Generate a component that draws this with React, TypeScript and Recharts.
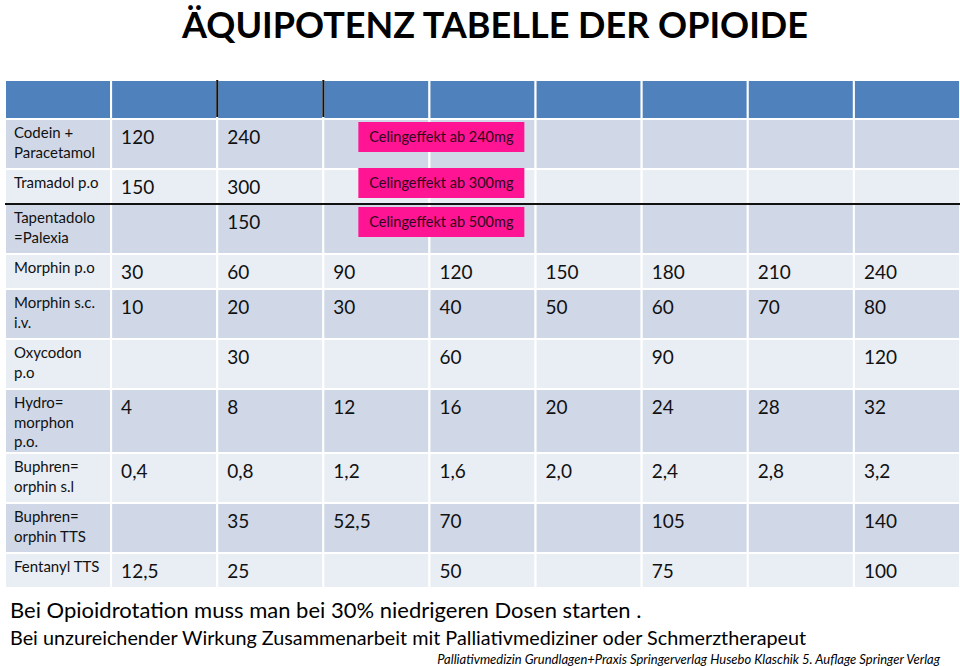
import { ScatterChart, Scatter, XAxis, YAxis, ReferenceArea, ReferenceLine } from "recharts"

// Zeilenbeschriftungen (Zeilenumbruch wie im Original)
const drugs = [
  "Codein +\nParacetamol",
  "Tramadol p.o",
  "Tapentadolo\n=Palexia",
  "Morphin p.o",
  "Morphin s.c.\ni.v.",
  "Oxycodon\np.o",
  "Hydro=\nmorphon\np.o.",
  "Buphren=\norphin s.l",
  "Buphren=\norphin TTS",
  "Fentanyl TTS",
]

// Dosen je Spalte (8 Spalten), leere Zellen als ""
const codeinDoses = ["120", "240", "", "", "", "", "", ""]
const tramadolDoses = ["150", "300", "", "", "", "", "", ""]
const tapentadolDoses = ["", "150", "", "", "", "", "", ""]
const morphinPoDoses = ["30", "60", "90", "120", "150", "180", "210", "240"]
const morphinScDoses = ["10", "20", "30", "40", "50", "60", "70", "80"]
const oxycodonDoses = ["", "30", "", "60", "", "90", "", "120"]
const hydromorphonDoses = ["4", "8", "12", "16", "20", "24", "28", "32"]
const buprenorphinSlDoses = ["0,4", "0,8", "1,2", "1,6", "2,0", "2,4", "2,8", "3,2"]
const buprenorphinTtsDoses = ["", "35", "52,5", "70", "", "105", "", "140"]
const fentanylDoses = ["12,5", "25", "", "50", "", "75", "", "100"]

const doseRows = [
  codeinDoses,
  tramadolDoses,
  tapentadolDoses,
  morphinPoDoses,
  morphinScDoses,
  oxycodonDoses,
  hydromorphonDoses,
  buprenorphinSlDoses,
  buprenorphinTtsDoses,
  fentanylDoses,
]

// Ceiling-Hinweise (Zeilenindex + Text)
const ceilingRows = [0, 1, 2]
const ceilingLabels = ["Celingeffekt ab 240mg", "Celingeffekt ab 300mg", "Celingeffekt ab 500mg"]

const W = 960
const H = 666
const TOP = 80
const LEFT = 5
const HEADER_H = 39
const COLS = 9
const FONT = "Lato, 'Open Sans', sans-serif"

const HEADER_BLUE = "#4f81bd"
const ROW_DARK = "#d0d8e8"
const ROW_LIGHT = "#e9edf4"
const PINK = "#ff1493"

const heightForLines: Record<number, number> = { 1: 35, 2: 50, 3: 64 }
const rowHeights = drugs.map(d => heightForLines[d.split("\n").length])
const rowTops: number[] = []
rowHeights.reduce((acc, h) => {
  rowTops.push(acc)
  return acc + h
}, HEADER_H)
const TABLE_H = HEADER_H + rowHeights.reduce((a, b) => a + b, 0)

const labelPoints = drugs.map((d, i) => ({ x: 0, y: rowTops[i], label: d }))
const dosePoints = doseRows.flatMap((row, r) =>
  row.map((v, c) => ({ x: c + 1, y: rowTops[r], label: v })).filter(p => p.label !== "")
)
const ceilingPoints = ceilingRows.map((r, i) => ({ x: 3.33, y: rowTops[r], label: ceilingLabels[i] }))

const LabelShape = (props: any) => {
  const { cx, cy, payload } = props
  const lines = String(payload.label).split("\n")
  return (
    <text x={cx + 9} y={cy + 19} fontSize={15} fontFamily={FONT} fill="#111">
      {lines.map((l, i) => (
        <tspan key={i} x={cx + 9} dy={i === 0 ? 0 : 19.5}>{l}</tspan>
      ))}
    </text>
  )
}

const DoseShape = (props: any) => {
  const { cx, cy, payload } = props
  return (
    <text x={cx + 10} y={cy + 25} fontSize={19} fontFamily={FONT} fill="#111">
      {payload.label}
    </text>
  )
}

const CeilingShape = (props: any) => {
  const { cx, cy, payload } = props
  const dy = payload.row === 1 ? -1 : 3
  return (
    <g>
      <rect x={cx} y={cy + dy} width={166} height={30} fill={PINK} />
      <text x={cx + 83} y={cy + dy + 20} fontSize={14.5} fontFamily={FONT} fill="#2e0820" textAnchor="middle">
        {payload.label}
      </text>
    </g>
  )
}

export default function App() {
  const columns = Array.from({ length: COLS }, (_, c) => c)
  const ceilingData = ceilingPoints.map((p, i) => ({ ...p, row: ceilingRows[i] }))
  return (
    <div style={{ position: "absolute", left: 0, top: 0, width: W, height: H, background: "#fff" }}>
      <ScatterChart width={W} height={H} margin={{ top: TOP, left: LEFT, right: 0, bottom: H - TOP - TABLE_H }}>
        <XAxis type="number" dataKey="x" domain={[0, COLS]} allowDataOverflow hide />
        <YAxis type="number" dataKey="y" domain={[0, TABLE_H]} allowDataOverflow reversed hide />

        {columns.map(c => (
          <ReferenceArea key={`h-${c}`} x1={c} x2={c + 1} y1={0} y2={HEADER_H}
            fill={HEADER_BLUE} fillOpacity={1} stroke="#fff" strokeWidth={2} />
        ))}
        {drugs.map((_, r) =>
          columns.map(c => (
            <ReferenceArea key={`c-${r}-${c}`} x1={c} x2={c + 1} y1={rowTops[r]} y2={rowTops[r] + rowHeights[r]}
              fill={r % 2 === 0 ? ROW_DARK : ROW_LIGHT} fillOpacity={1} stroke="#fff" strokeWidth={2} />
          ))
        )}

        <ReferenceLine segment={[{ x: 2, y: 0 }, { x: 2, y: HEADER_H - 2 }]} stroke="#111" strokeWidth={2} />
        <ReferenceLine segment={[{ x: 3, y: 0 }, { x: 3, y: HEADER_H - 2 }]} stroke="#111" strokeWidth={2} />
        <ReferenceLine y={rowTops[2]} stroke="#111" strokeWidth={2} />

        <Scatter data={labelPoints} shape={LabelShape} isAnimationActive={false} />
        <Scatter data={dosePoints} shape={DoseShape} isAnimationActive={false} />
        <Scatter data={ceilingData} shape={CeilingShape} isAnimationActive={false} />
      </ScatterChart>

      <svg width={W} height={H} style={{ position: "absolute", left: 0, top: 0, pointerEvents: "none" }}>
        <text x={495} y={38} textAnchor="middle" fontSize={36} fontWeight={700} fontFamily={FONT} fill="#000">
          ÄQUIPOTENZ TABELLE DER OPIOIDE
        </text>
        <text x={10} y={618} fontSize={22} fontFamily={FONT} fill="#000">
          Bei Opioidrotation muss man bei 30% niedrigeren Dosen starten .
        </text>
        <text x={10} y={645} fontSize={19.8} fontFamily={FONT} fill="#000">
          Bei unzureichender Wirkung Zusammenarbeit mit Palliativmediziner oder Schmerztherapeut
        </text>
        <text x={940} y={664} textAnchor="end" fontSize={13} fontStyle="italic" fontFamily={FONT} fill="#000">
          Palliativmedizin Grundlagen+Praxis Springerverlag Husebo Klaschik 5. Auflage Springer Verlag
        </text>
      </svg>
    </div>
  )
}
